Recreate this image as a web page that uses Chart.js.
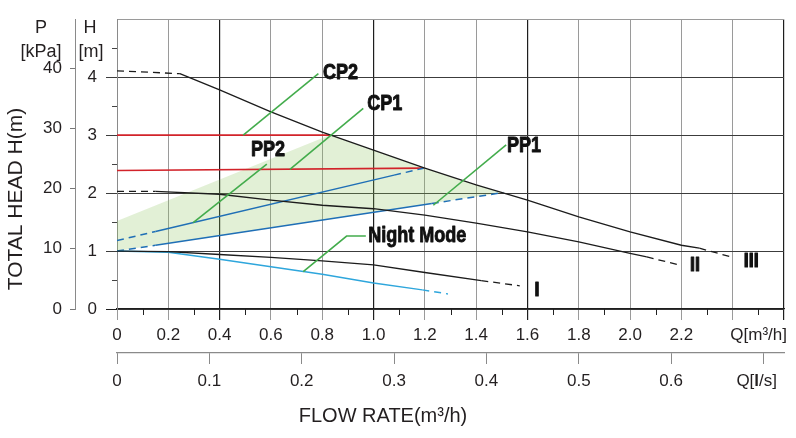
<!DOCTYPE html>
<html>
<head>
<meta charset="utf-8">
<script src="https://cdn.jsdelivr.net/npm/chart.js@4/dist/chart.umd.min.js"></script>
<style>
  html, body { margin: 0; padding: 0; background: #fff; }
  #wrap { width: 796px; height: 438px; }
</style>
</head>
<body>
<div id="wrap"><canvas id="pumpChart" width="796" height="438"></canvas></div>
<script>
// flow Q in m3/h, head H in m
const curve3Q = [0, 0.245, 0.4, 0.6, 0.8, 1.0, 1.2, 1.4, 1.6, 1.8, 2.0, 2.2, 2.27, 2.40];
const curve3H = [4.11, 4.06, 3.78, 3.40, 3.05, 2.74, 2.43, 2.14, 1.88, 1.59, 1.33, 1.10, 1.05, 0.89];
const curve2Q = [0, 0.15, 0.4, 0.6, 0.8, 1.0, 1.2, 1.4, 1.6, 1.8, 2.0, 2.065, 2.2];
const curve2H = [2.03, 2.03, 1.98, 1.88, 1.79, 1.73, 1.62, 1.48, 1.33, 1.16, 0.96, 0.90, 0.75];
const curve1Q = [0, 0.2, 0.4, 0.6, 0.8, 1.0, 1.2, 1.42, 1.57];
const curve1H = [1.0, 0.99, 0.94, 0.89, 0.83, 0.76, 0.63, 0.49, 0.40];
const nightQ = [0, 0.2, 0.4, 0.6, 0.8, 1.0, 1.19, 1.29];
const nightH = [1.0, 0.98, 0.86, 0.73, 0.60, 0.45, 0.33, 0.26];
const pp1Q = [0, 0.15, 1.227, 1.506];
const pp1H = [1.0, 1.10, 1.82, 2.01];
const pp2Q = [0, 0.15, 1.08, 1.195];
const pp2H = [1.18, 1.337, 2.31, 2.43];
const cp2Q = [0, 0.83];
const cp2H = [3.0, 3.0];
const cp1Q = [0, 1.195];
const cp1H = [2.39, 2.43];
// working range (green area): upper edge, lower edge is PP1
const rangeTopQ = [0, 0.83, 1.0, 1.2, 1.4, 1.506];
const rangeTopH = [1.52, 3.0, 2.74, 2.43, 2.14, 2.0];
const rangeLowQ = [0, 1.506];
const rangeLowH = [1.0, 2.01];

// leader lines and their captions
const leaderCP2Q = [0.492, 0.785], leaderCP2H = [3.0, 4.06];
const leaderCP1Q = [0.674, 0.96], leaderCP1H = [2.41, 3.46];
const leaderPP2Q = [0.297, 0.584], leaderPP2H = [1.49, 2.50];
const leaderPP1Q = [1.233, 1.517], leaderPP1H = [1.79, 2.83];
const leaderNightQ = [0.726, 0.895, 0.97], leaderNightH = [0.643, 1.259, 1.259];
const noteText = ['CP2', 'CP1', 'PP2', 'PP1', 'Night Mode'];
const noteQ = [0.803, 0.975, 0.522, 1.52, 0.979];
const noteH = [4.07, 3.53, 2.74, 2.81, 1.26];
const speedText = ['I', 'II', 'III'];
const speedQ = [1.637, 2.253, 2.472];
const speedH = [0.33, 0.76, 0.83];

const flowMax = 2.6;     // m3/h
const headMax = 5;       // m
const pressMax = 48.1;   // kPa at headMax
const litrePerSec = 3.6; // m3/h per l/s

const pts = (q, h) => q.map((v, i) => ({ x: v, y: h[i] }));

const BLACK = '#1c1c1c';
const TEXT = '#231f20';
const GREEN = '#43ac4c';

function curveSet(q, h, color, dashed, width) {
  return {
    data: pts(q, h),
    borderColor: color,
    borderWidth: width || 1.3,
    showLine: true,
    pointRadius: 0,
    fill: false,
    segment: {
      borderDash: c => dashed.includes(c.p0DataIndex) ? [7, 5] : undefined
    }
  };
}

function leaderSet(q, h) {
  return { data: pts(q, h), borderColor: GREEN, borderWidth: 1.6, showLine: true, pointRadius: 0, fill: false };
}

const datasets = [
  leaderSet(leaderCP2Q, leaderCP2H),
  leaderSet(leaderCP1Q, leaderCP1H),
  leaderSet(leaderPP2Q, leaderPP2H),
  leaderSet(leaderPP1Q, leaderPP1H),
  leaderSet(leaderNightQ, leaderNightH),
  curveSet(curve3Q, curve3H, BLACK, [0, curve3Q.length - 2]),
  curveSet(curve2Q, curve2H, BLACK, [0, curve2Q.length - 2]),
  curveSet(curve1Q, curve1H, BLACK, [curve1Q.length - 2]),
  curveSet(nightQ, nightH, '#2ea6dc', [nightQ.length - 2], 1.5),
  curveSet(pp1Q, pp1H, '#1f6fb6', [0, pp1Q.length - 2], 1.5),
  curveSet(pp2Q, pp2H, '#1f6fb6', [0, pp2Q.length - 2], 1.5),
  curveSet(cp2Q, cp2H, '#d2232a', [], 1.6),
  curveSet(cp1Q, cp1H, '#d2232a', [], 1.6)
];
const lowIndex = datasets.length + 1;
datasets.push({
  data: pts(rangeTopQ, rangeTopH), showLine: true, pointRadius: 0, borderWidth: 0,
  backgroundColor: 'rgba(140,195,90,0.25)', fill: lowIndex
});
datasets.push({
  data: pts(rangeLowQ, rangeLowH), showLine: true, pointRadius: 0, borderWidth: 0, fill: false
});

function drawText(ctx, text, px, py, o) {
  ctx.save();
  ctx.translate(px, py);
  if (o.rotate) ctx.rotate(o.rotate);
  ctx.scale(o.sx || 1, 1);
  ctx.font = o.font;
  ctx.fillStyle = o.color || TEXT;
  ctx.textAlign = o.align || 'center';
  ctx.textBaseline = 'middle';
  ctx.fillText(text, 0, 0);
  if (o.heavy) {
    // thicken the bold caption strokes
    ctx.strokeStyle = o.color || TEXT;
    ctx.lineWidth = o.heavy;
    ctx.lineJoin = 'round';
    ctx.strokeText(text, 0, 0);
  }
  ctx.restore();
}

const extras = {
  id: 'extras',
  afterDraw(chart) {
    const ctx = chart.ctx;
    const { x, y, yP } = chart.scales;
    const area = chart.chartArea;
    ctx.save();
    ctx.lineWidth = 1;

    // minor ticks, flow axis
    ctx.strokeStyle = '#222';
    for (let i = 1; i < 26; i += 2) {
      const px = Math.round(x.getPixelForValue(i / 10)) + 0.5;
      ctx.beginPath(); ctx.moveTo(px, area.bottom); ctx.lineTo(px, area.bottom + 6); ctx.stroke();
    }
    // minor ticks, head axis
    ctx.strokeStyle = '#444';
    for (let i = 1; i < 10; i += 2) {
      const py = Math.round(y.getPixelForValue(i / 2)) + 0.5;
      ctx.beginPath(); ctx.moveTo(area.left - 5, py); ctx.lineTo(area.left, py); ctx.stroke();
    }

    // captions of the leader lines
    noteText.forEach((t, i) => {
      drawText(ctx, t, x.getPixelForValue(noteQ[i]), y.getPixelForValue(noteH[i]),
        { font: 'bold 22px "Liberation Sans", Arial, sans-serif', sx: 0.82, align: 'left', color: '#111', heavy: 0.9 });
    });
    speedText.forEach((t, i) => {
      drawText(ctx, t, x.getPixelForValue(speedQ[i]), y.getPixelForValue(speedH[i]),
        { font: 'bold 21px "Liberation Sans", Arial, sans-serif', sx: 0.85, color: '#111', heavy: 1.2 });
    });

    // axis titles and units
    const f18 = '18px "Liberation Sans", Arial, sans-serif';
    drawText(ctx, 'P', yP.right - 34, area.top + 9, { font: f18 });
    drawText(ctx, '[kPa]', yP.right - 34, area.top + 33, { font: f18 });
    drawText(ctx, 'H', yP.right + 15, area.top + 9, { font: f18 });
    drawText(ctx, '[m]', yP.right + 16, area.top + 33, { font: f18 });
    drawText(ctx, 'TOTAL HEAD H(m)', 16.5, 199,
      { font: '21px "Liberation Sans", Arial, sans-serif', rotate: -Math.PI / 2 });
    drawText(ctx, 'FLOW RATE(m\u00b3/h)', 383, 416, { font: '20px "Liberation Sans", Arial, sans-serif' });

    const f17 = '17px "Liberation Sans", Arial, sans-serif';
    drawText(ctx, 'Q[m\u00b3/h]', area.right + 3, 335.5, { font: f17, align: 'right' });

    // Q[l/s] with bold l
    const parts = [['Q[', f17], ['l', 'bold ' + f17], ['/s]', f17]];
    let w = 0;
    parts.forEach(p => { ctx.font = p[1]; w += ctx.measureText(p[0]).width; });
    let cx = area.right - 7 - w;
    parts.forEach(p => {
      drawText(ctx, p[0], cx, 381, { font: p[1], align: 'left' });
      ctx.font = p[1];
      cx += ctx.measureText(p[0]).width;
    });
    ctx.restore();
  }
};

Chart.defaults.font.family = '"Liberation Sans", Arial, sans-serif';
Chart.defaults.color = TEXT;

const darkQ = [4, 10, 16, 26];
const fmt1 = v => v === 0 ? '0' : v.toFixed(1);

new Chart(document.getElementById('pumpChart'), {
  type: 'scatter',
  data: { datasets },
  plugins: [extras],
  options: {
    responsive: false,
    animation: false,
    layout: { padding: { left: 0, right: 12, top: 19, bottom: 40 } },
    plugins: { legend: { display: false }, tooltip: { enabled: false } },
    scales: {
      x: {
        type: 'linear', position: 'bottom', weight: 0,
        min: 0, max: flowMax,
        afterFit: s => { s.height = 44; },
        ticks: {
          stepSize: 0.2, maxTicksLimit: 30, maxRotation: 0, autoSkip: false,
          padding: 5, font: { size: 17 },
          callback: v => Math.round(v * 10) >= 24 ? '' : fmt1(Math.round(v * 10) / 10)
        },
        grid: {
          tickLength: 11,
          color: c => c.tick && darkQ.includes(Math.round(c.tick.value * 10)) ? '#1e1e1e' : '#9a9a9a',
          tickColor: c => c.tick && darkQ.includes(Math.round(c.tick.value * 10)) ? '#1e1e1e' : '#9a9a9a',
          lineWidth: c => c.tick && darkQ.includes(Math.round(c.tick.value * 10)) ? 1.2 : 1
        },
        border: { color: '#1e1e1e', width: 1.3 }
      },
      x2: {
        type: 'linear', position: 'bottom', weight: 1,
        min: 0, max: flowMax / litrePerSec,
        afterFit: s => { s.height = 45; },
        ticks: {
          stepSize: 0.1, includeBounds: false, maxRotation: 0, autoSkip: false,
          padding: 7, font: { size: 17 },
          callback: v => Math.round(v * 10) >= 7 ? '' : fmt1(Math.round(v * 10) / 10)
        },
        grid: { drawOnChartArea: false, tickLength: 11, color: '#8a8a8a', tickColor: '#8a8a8a' },
        border: { color: '#8a8a8a', width: 1.2 }
      },
      y: {
        type: 'linear', position: 'left', weight: 0,
        min: 0, max: headMax,
        afterFit: s => { s.width = 42; },
        ticks: {
          stepSize: 1, padding: 9, font: { size: 17 },
          callback: v => v >= headMax ? '' : String(v)
        },
        grid: {
          tickLength: 11,
          color: c => c.tick && c.tick.value >= headMax ? '#9a9a9a' : '#3c3c3c',
          tickColor: c => !c.tick ? '#3c3c3c' : c.tick.value >= headMax ? 'rgba(0,0,0,0)' : c.tick.value === 0 ? '#1e1e1e' : '#3c3c3c'
        },
        border: { color: '#8a8a8a' }
      },
      yP: {
        type: 'linear', position: 'left', weight: 1,
        min: 0, max: pressMax,
        afterFit: s => { s.width = 75; },
        ticks: { stepSize: 10, includeBounds: false, padding: 8, font: { size: 17 } },
        grid: { drawOnChartArea: false, tickLength: 5, color: '#777', tickColor: '#777' },
        border: { color: '#8a8a8a' }
      }
    }
  }
});
</script>
</body>
</html>
